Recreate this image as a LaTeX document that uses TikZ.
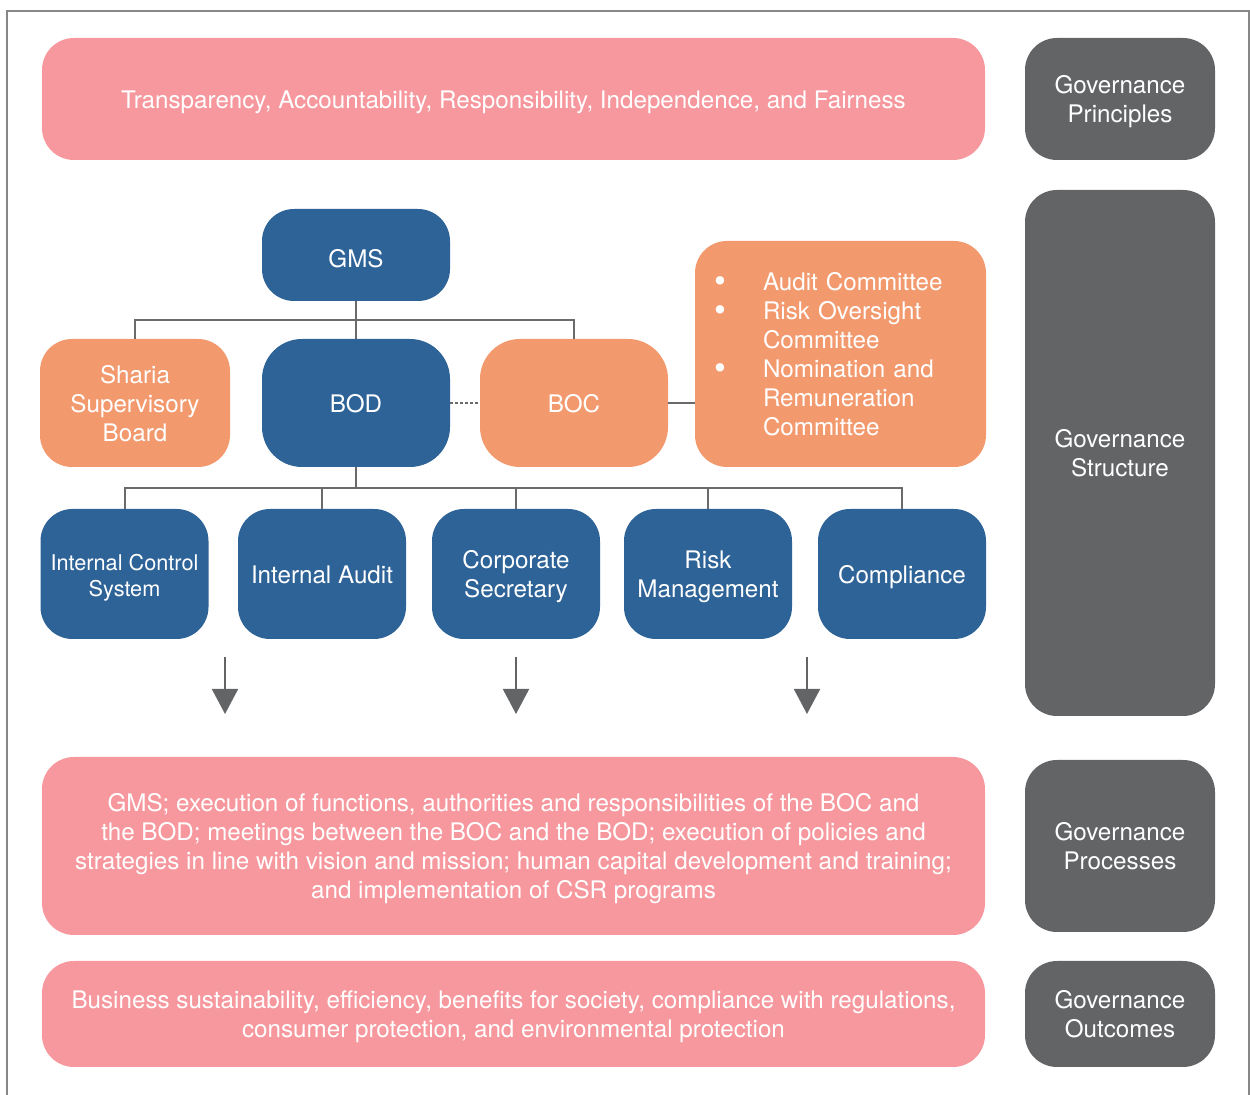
\documentclass[tikz,border=0pt]{standalone}
\usepackage{fontspec}
\usepackage{graphicx}
\setmainfont{TeX Gyre Heros}
\usetikzlibrary{arrows.meta,calc}

\definecolor{rosefill}{RGB}{246,152,157}
\definecolor{peachfill}{RGB}{243,153,110}
\definecolor{navyfill}{RGB}{46,99,152}
\definecolor{slatefill}{RGB}{99,100,102}
\definecolor{linkgray}{RGB}{105,106,108}
\definecolor{framegray}{RGB}{135,135,135}

% struts on the first and last line of each label give every box the same line box
\newcommand{\topstrut}{\rule{0pt}{12.5pt}}
\newcommand{\botstrut}{\rule[-3pt]{0pt}{3pt}}
\newcommand{\listbullet}{\hspace*{-3pt}\raisebox{-0.8pt}{\scalebox{1.4}{\textbullet}}}

\tikzset{
  box/.style={rounded corners=16pt, inner sep=0pt, text=white, align=center,
    font=\fontsize{12.1}{14.5}\selectfont},
  rosebox/.style={box, fill=rosefill, minimum width=471.5pt},
  sidebox/.style={box, fill=slatefill, minimum width=95pt},
  navybox/.style={box, fill=navyfill},
  peachbox/.style={box, fill=peachfill},
  unitbox/.style={navybox, minimum width=84pt, minimum height=65pt},
  link/.style={draw=linkgray, line width=1pt},
  flowarrow/.style={draw=slatefill, fill=slatefill, line width=1pt,
    -{Triangle[width=13pt,length=12.5pt]}},
}

\begin{document}
\begin{tikzpicture}[x=0.5pt, y=-0.5pt]
\useasboundingbox (0,0) rectangle (1250,1095);

% outer frame (open at the bottom)
\draw[framegray, line width=1pt] (7,1095) -- (7,11) -- (1249,11) -- (1249,1095);

% layer bands
\node[rosebox, minimum height=61pt] (principles) at (513.5,99)
  {\topstrut Transparency, Accountability, Responsibility, Independence, and Fairness\botstrut};
\node[rosebox, minimum height=89pt] (processes) at (513.5,846)
  {\topstrut GMS; execution of functions, authorities and responsibilities of the BOC and\\
   the BOD; meetings between the BOC and the BOD; execution of policies and\\
   strategies in line with vision and mission; human capital development and training;\\
   and implementation of CSR programs\botstrut};
\node[rosebox, minimum height=53pt] (outcomes) at (513.5,1014)
  {\topstrut Business sustainability, efficiency, benefits for society, compliance with regulations,\\
   consumer protection, and environmental protection\botstrut};

% layer labels
\node[sidebox, minimum height=61pt] (lblprinciples) at (1120,99) {\topstrut Governance\\Principles\botstrut};
\node[sidebox, minimum height=263pt] (lblstructure) at (1120,453) {\topstrut Governance\\Structure\botstrut};
\node[sidebox, minimum height=86pt] (lblprocesses) at (1120,846) {\topstrut Governance\\Processes\botstrut};
\node[sidebox, minimum height=53pt] (lbloutcomes) at (1120,1014) {\topstrut Governance\\Outcomes\botstrut};

% organs
\node[navybox, minimum width=94pt, minimum height=46pt] (gms) at (356,255) {\rule{0pt}{16pt}GMS\botstrut};
\node[peachbox, minimum width=95pt, minimum height=64pt] (sharia) at (135,403)
  {\topstrut Sharia\\Supervisory\\Board\botstrut};
\node[navybox, rounded corners=20pt, minimum width=94pt, minimum height=64pt] (bod) at (356,403) {\topstrut BOD\botstrut};
\node[peachbox, rounded corners=20pt, minimum width=94pt, minimum height=64pt] (boc) at (574,403) {\topstrut BOC\botstrut};
\node[peachbox, minimum width=145.5pt, minimum height=113pt, text width=120.5pt, align=left] (committees) at (840.5,354)
  {\begin{tabular}{@{}p{21.5pt}@{}l@{}}
   \listbullet & \rule{0pt}{13.65pt}Audit Committee\\
   \listbullet & Risk Oversight\\
               & Committee\\
   \listbullet & Nomination and\\
               & Remuneration\\
               & Committee
   \end{tabular}};

% units under the BOD
\node[unitbox, font=\fontsize{10.85}{13}\selectfont] (ics) at (124.5,574) {\topstrut Internal Control\\System\botstrut};
\node[unitbox] (audit) at (322,574) {\topstrut Internal Audit\botstrut};
\node[unitbox] (secretary) at (516,574) {\topstrut Corporate\\Secretary\botstrut};
\node[unitbox] (risk) at (708,574) {\topstrut Risk\\Management\botstrut};
\node[unitbox] (compliance) at (902,574) {\topstrut Compliance\botstrut};

% GMS tree
\coordinate (upper) at ($(gms.south)!0.5!(bod.north)$);
\draw[link] (gms.south) -- (upper) -- (bod.north);
\draw[link] (sharia.north) |- (upper) -| (boc.north);

% BOD tree
\coordinate (lower) at ($(bod.south)!0.5!(secretary.north)$);
\draw[link] (bod.south) -- (bod.south |- lower);
\draw[link] (ics.north) |- (lower) -| (compliance.north);
\draw[link] (audit.north) -- (audit.north |- lower);
\draw[link] (secretary.north) -- (secretary.north |- lower);
\draw[link] (risk.north) -- (risk.north |- lower);

% BOD–BOC relation and BOC committees
\draw[draw=linkgray, line width=1pt, dash pattern=on 1.2pt off 1.3pt] (bod.east) -- (boc.west);
\draw[link] (boc.east) -- (boc.east -| committees.west);

% flow towards processes
\coordinate (fa1) at (225,657); \coordinate (fb1) at (225,714);
\coordinate (fa2) at (516,657); \coordinate (fb2) at (516,714);
\coordinate (fa3) at (807,657); \coordinate (fb3) at (807,714);
\draw[flowarrow] (fa1) -- (fb1);
\draw[flowarrow] (fa2) -- (fb2);
\draw[flowarrow] (fa3) -- (fb3);
\end{tikzpicture}
\end{document}
